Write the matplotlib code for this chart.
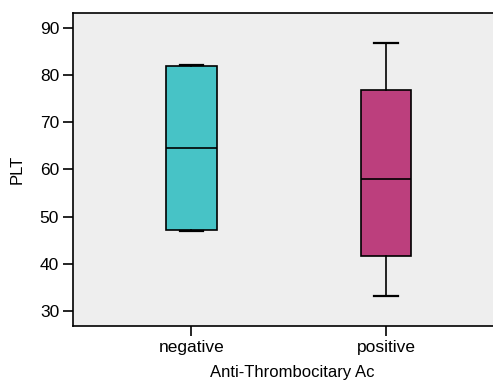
import matplotlib.pyplot as plt

plt.rcParams['font.family'] = ['Liberation Sans', 'DejaVu Sans']

groups = ["negative", "positive"]
whislo = [47.0, 33.2]
q1 = [47.1, 41.8]
med = [64.5, 58.0]
q3 = [81.9, 76.9]
whishi = [82.0, 86.8]
colors = ["#47C3C6", "#BC3F7D"]

stats = []
for i, g in enumerate(groups):
    stats.append(dict(label=g, whislo=whislo[i], q1=q1[i], med=med[i],
                      q3=q3[i], whishi=whishi[i], fliers=[]))

fig = plt.figure(figsize=(4.93, 3.85), dpi=100)
ax = fig.add_axes([73 / 493, 59 / 385, 420 / 493, 313 / 385])
ax.set_facecolor("#EEEEEE")

bp = ax.bxp(stats, positions=[1, 2], widths=0.26, patch_artist=True,
            showfliers=False,
            boxprops=dict(linewidth=1.2, edgecolor="black"),
            medianprops=dict(color="black", linewidth=1.2),
            whiskerprops=dict(color="black", linewidth=1.2),
            capprops=dict(color="black", linewidth=1.6),
            capwidths=0.12)
for patch, c in zip(bp["boxes"], colors):
    patch.set_facecolor(c)

ax.set_xlim(0.392, 2.55)
ax.set_ylim(26.9, 93.1)
ax.set_yticks([30, 40, 50, 60, 70, 80, 90])
ax.spines["right"].set_visible(False)
for s in ["left", "bottom", "top"]:
    ax.spines[s].set_linewidth(1.2)
ax.tick_params(direction="out", length=7, width=1.2, labelsize=12.5, colors="black", pad=3)
ax.set_ylabel("PLT", fontsize=12)
ax.set_xlabel("Anti-Thrombocitary Ac", fontsize=12)
ax.xaxis.set_label_coords((292 - 73) / 420, -0.125)
ax.yaxis.set_label_coords(-0.115, 0.5)

fig.savefig("out.png", dpi=100)
